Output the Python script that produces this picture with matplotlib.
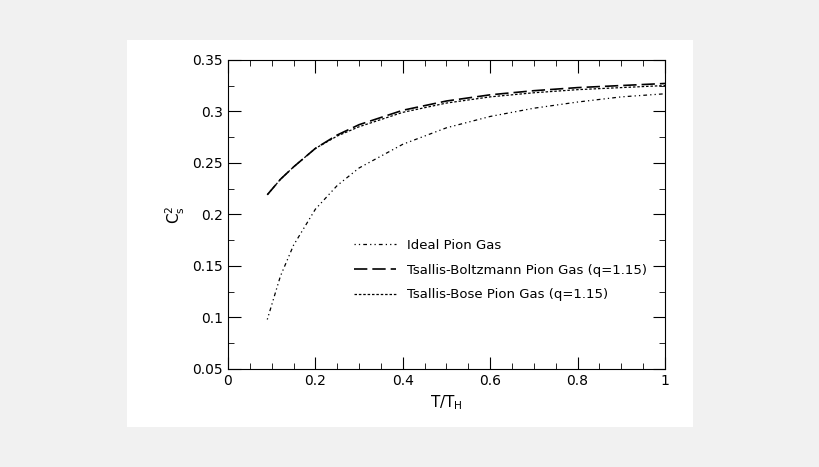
import matplotlib
matplotlib.use("Agg")
import matplotlib.pyplot as plt
from matplotlib.ticker import MultipleLocator

x_ideal = [0.09, 0.12, 0.15, 0.2, 0.25, 0.3, 0.4, 0.5, 0.6, 0.7, 0.8, 0.9, 1.0]
y_ideal = [0.098, 0.14, 0.17, 0.205, 0.228, 0.245, 0.268, 0.284, 0.295, 0.303, 0.309, 0.314, 0.317]
x_tb = [0.09, 0.12, 0.15, 0.2, 0.25, 0.3, 0.4, 0.5, 0.6, 0.7, 0.8, 0.9, 1.0]
y_tb = [0.219, 0.234, 0.246, 0.264, 0.277, 0.287, 0.301, 0.310, 0.316, 0.320, 0.323, 0.325, 0.327]
x_bose = [0.09, 0.12, 0.15, 0.2, 0.25, 0.3, 0.4, 0.5, 0.6, 0.7, 0.8, 0.9, 1.0]
y_bose = [0.219, 0.234, 0.246, 0.264, 0.276, 0.285, 0.299, 0.308, 0.314, 0.318, 0.321, 0.323, 0.325]

fig = plt.figure(figsize=(8.2, 4.67), dpi=100)
fig.patch.set_facecolor("#f1f1f1")
bg = fig.add_axes([127/820, 40/467, 566/820, 387/467], zorder=-1)
bg.set_facecolor("white")
bg.set_axis_off()
bg.add_patch(plt.Rectangle((0, 0), 1, 1, transform=bg.transAxes, facecolor="white", edgecolor="none"))

ax = fig.add_axes([0.278, 0.210, 0.533, 0.662], zorder=1)
ax.plot(x_ideal, y_ideal, color="black", lw=0.9, dashes=(1, 2.5, 1, 2.5, 3, 2.5), label="Ideal Pion Gas")
ax.plot(x_tb, y_tb, color="black", lw=1.2, dashes=(8, 3), label="Tsallis-Boltzmann Pion Gas (q=1.15)")
ax.plot(x_bose, y_bose, color="black", lw=0.9, dashes=(2, 1.5), label="Tsallis-Bose Pion Gas (q=1.15)")
ax.set_xlim(0, 1)
ax.set_ylim(0.05, 0.35)
ax.set_xticks([0, 0.2, 0.4, 0.6, 0.8, 1.0])
ax.set_xticklabels(["0", "0.2", "0.4", "0.6", "0.8", "1"])
ax.xaxis.set_minor_locator(MultipleLocator(0.05))
ax.set_yticks([0.05, 0.1, 0.15, 0.2, 0.25, 0.3, 0.35])
ax.set_yticklabels(["0.05", "0.1", "0.15", "0.2", "0.25", "0.3", "0.35"])
ax.yaxis.set_minor_locator(MultipleLocator(0.025))
ax.tick_params(which="both", direction="in", top=True, right=True, labelsize=10)
ax.tick_params(which="major", length=9)
ax.tick_params(which="minor", length=4)
ax.set_xlabel("T/T$_\\mathregular{H}$", fontsize=11)
ax.set_ylabel("C$_\\mathregular{s}^\\mathregular{2}$", fontsize=11)
ax.legend(loc="lower right", bbox_to_anchor=(0.985, 0.18), frameon=False, fontsize=9.5,
          handlelength=3.2, labelspacing=0.9)
fig.savefig("out.png", dpi=100, facecolor=fig.get_facecolor())
